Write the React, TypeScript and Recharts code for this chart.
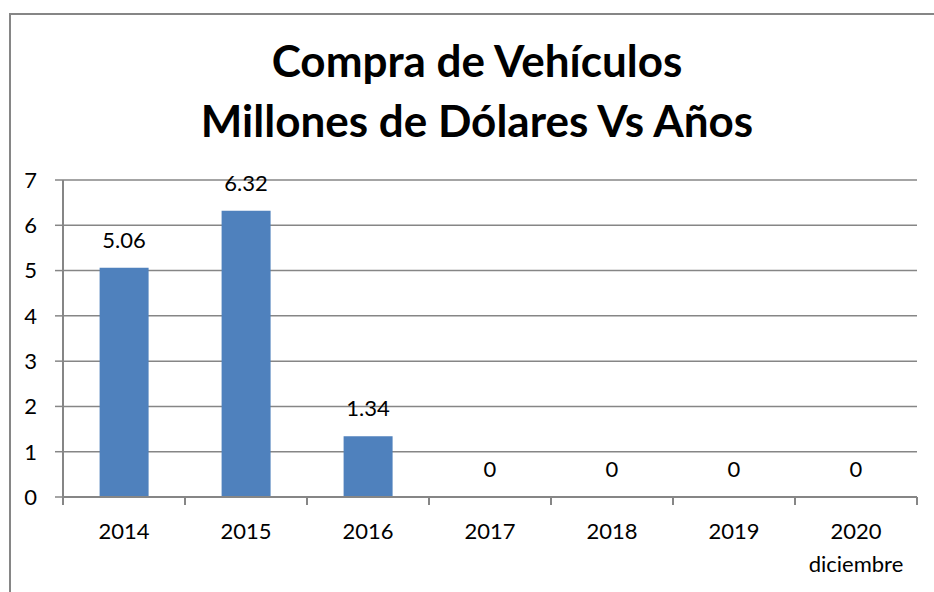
// Compra de Vehículos: bar chart in Excel styling (millones de dólares por año).

import { ComposedChart, Bar, Line, XAxis, YAxis, CartesianGrid, LabelList } from "recharts";

const YEARS = ["2014", "2015", "2016", "2017", "2018", "2019", "2020"];
const YEAR_SUBLABELS = ["", "", "", "", "", "", "diciembre"];
const MILLONES = [5.06, 6.32, 1.34, 0, 0, 0, 0];
const Y_TICKS = [0, 1, 2, 3, 4, 5, 6, 7];

const TITLE_LINES = ["Compra de Vehículos", "Millones de Dólares Vs Años"];

const FONT = "Lato, 'Open Sans', sans-serif";
const GRID = "#868686";
const BAR = "#4F81BD";

const W = 934;
const H = 592;
const MARGIN = { top: 180, right: 17, bottom: 15, left: 23 };
const Y_AXIS_W = 40;
const X_AXIS_H = 80;

const rows = YEARS.map((y, i) => ({ year: y, sub: YEAR_SUBLABELS[i], value: MILLONES[i] }));

// category band width, used to put tick marks on the category edges like Excel does
const BAND = (W - MARGIN.left - MARGIN.right - Y_AXIS_W) / YEARS.length;

function YearTick(props: any) {
  const { x, y, payload, index } = props;
  const sub = YEAR_SUBLABELS[index] ?? "";
  const last = index === YEARS.length - 1;
  return (
    <g>
      <line x1={x - BAND / 2} x2={x - BAND / 2} y1={y} y2={y + 8} stroke={GRID} strokeWidth={2} />
      {last && <line x1={x + BAND / 2} x2={x + BAND / 2} y1={y} y2={y + 8} stroke={GRID} strokeWidth={2} />}
      <text x={x} y={y + 42} textAnchor="middle" fontSize={22} fill="#000" fontFamily={FONT}>{payload.value}</text>
      {sub && <text x={x} y={y + 75} textAnchor="middle" fontSize={22} fill="#000" fontFamily={FONT}>{sub}</text>}
    </g>
  );
}

export default function App() {
  return (
    <div style={{ position: "absolute", left: 0, top: 0, width: W, height: H, background: "#fff", overflow: "hidden", fontFamily: FONT }}>
      <div style={{ position: "absolute", left: 9, top: 13, width: W, height: H, borderLeft: `2px solid ${GRID}`, borderTop: `2px solid ${GRID}`, boxSizing: "border-box" }} />
      <div style={{ position: "absolute", left: 9, top: 30, width: 936, textAlign: "center", fontSize: 44, fontWeight: 700, lineHeight: "60px", color: "#000" }}>
        {TITLE_LINES.map((t) => <div key={t}>{t}</div>)}
      </div>
      <div style={{ position: "absolute", left: 0, top: 0 }}>
        <ComposedChart width={W} height={H} data={rows} margin={MARGIN} barCategoryGap="30%">
          <CartesianGrid vertical={false} stroke={GRID} strokeWidth={1.5} />
          <XAxis dataKey="year" height={X_AXIS_H} interval={0} tickLine={false} tickSize={0} tickMargin={0}
            axisLine={{ stroke: GRID, strokeWidth: 2 }} tick={<YearTick />} />
          <YAxis width={Y_AXIS_W} domain={[0, 7]} ticks={Y_TICKS} interval={0} tickSize={8} tickMargin={18}
            axisLine={{ stroke: GRID, strokeWidth: 2 }} tickLine={{ stroke: GRID, strokeWidth: 1.5 }}
            tick={{ fontSize: 22, fill: "#000", fontFamily: FONT }} />
          <Bar dataKey="value" fill={BAR} isAnimationActive={false} />
          {/* invisible series only to carry the data labels, so the zero values get one too */}
          <Line dataKey="value" stroke="none" dot={false} activeDot={false} legendType="none" isAnimationActive={false}>
            <LabelList dataKey="value" position="top" offset={20} fontSize={22} fill="#000" fontFamily={FONT} />
          </Line>
        </ComposedChart>
      </div>
    </div>
  );
}
